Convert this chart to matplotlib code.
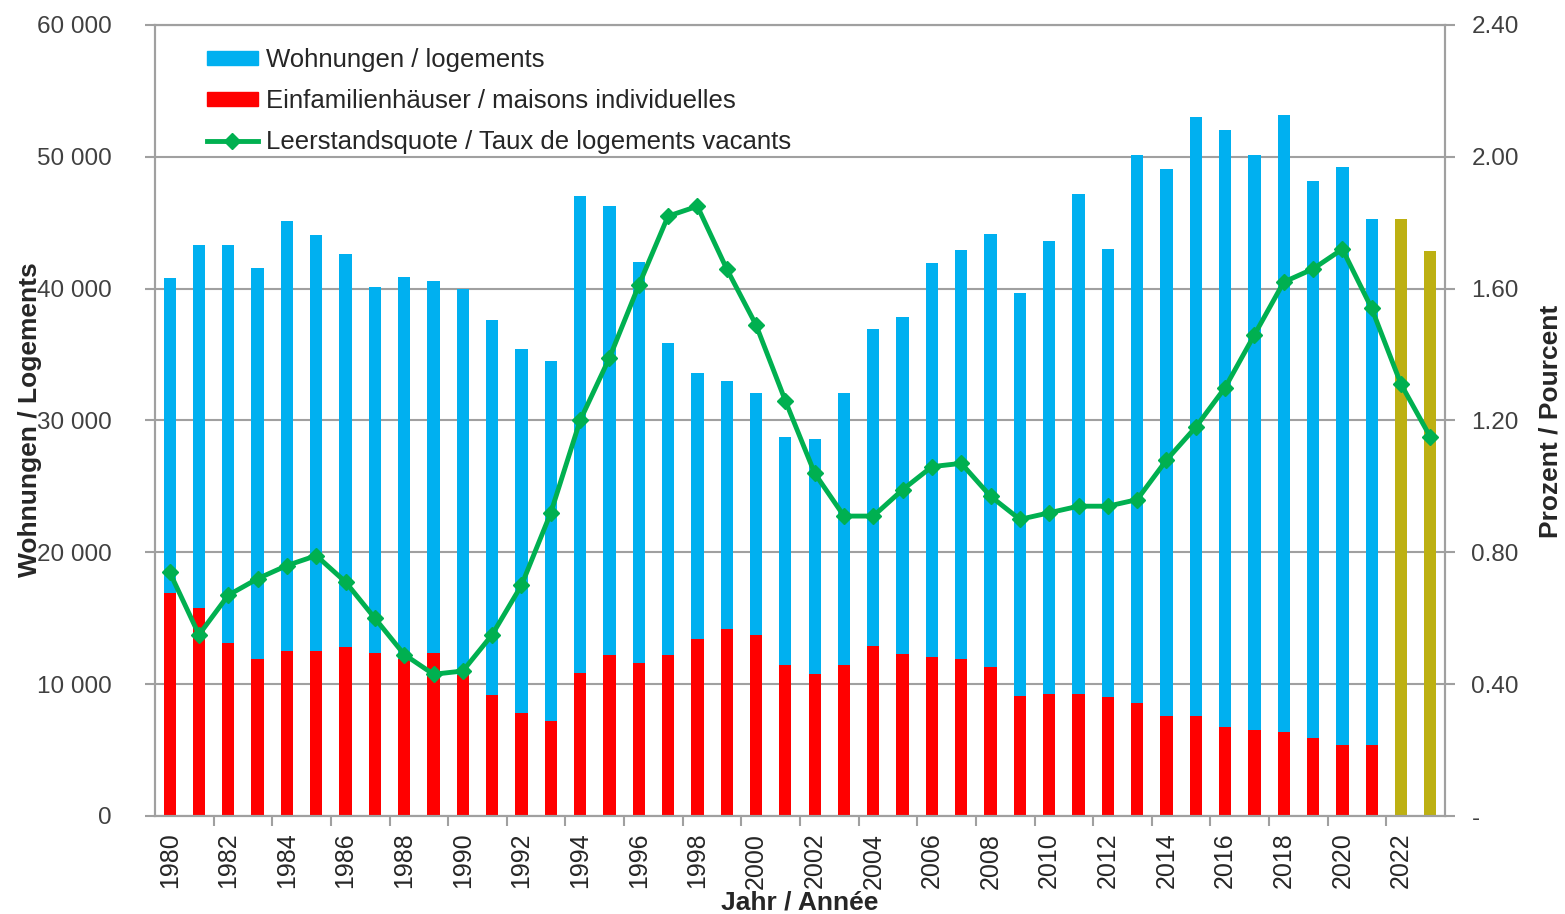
import matplotlib.pyplot as plt
import numpy as np
from matplotlib.patches import Patch
from matplotlib.lines import Line2D

plt.rcParams['font.family'] = ['Liberation Sans', 'DejaVu Sans']

years = list(range(1980, 2024))

# Einfamilienhaeuser (red, bottom of stack), 1980-2021
efh = [16950, 15750, 13150, 11900, 12550, 12550, 12800, 12350, 11900, 12350,
       10700, 9200, 7800, 7200, 10850, 12250, 11600, 12200, 13400, 14150,
       13750, 11450, 10800, 11450, 12900, 12300, 12050, 11900, 11300, 9100,
       9250, 9250, 9000, 8550, 7550, 7550, 6750, 6550, 6350, 5950,
       5400, 5400]
# Wohnungen (blue, stacked on top), 1980-2021
wohnungen = [23850, 27550, 30150, 29650, 32600, 31550, 29800, 27800, 29000, 28250,
             29250, 28400, 27650, 27350, 36150, 34000, 30400, 23700, 20200, 18850,
             18350, 17300, 17800, 20650, 24050, 25550, 29900, 31000, 32850, 30600,
             34400, 37900, 34000, 41600, 41500, 45500, 45250, 43600, 46800, 42250,
             43800, 39850]
# forecast totals 2022-2023 (olive bars)
forecast = [45250, 42850]

# Leerstandsquote in %
quote = [0.74, 0.55, 0.67, 0.72, 0.76, 0.79, 0.71, 0.60, 0.49, 0.43,
         0.44, 0.55, 0.70, 0.92, 1.20, 1.39, 1.61, 1.82, 1.85, 1.66,
         1.49, 1.26, 1.04, 0.91, 0.91, 0.99, 1.06, 1.07, 0.97, 0.90,
         0.92, 0.94, 0.94, 0.96, 1.08, 1.18, 1.30, 1.46, 1.62, 1.66,
         1.72, 1.54, 1.31, 1.15]

BLUE = '#00B0F0'
RED = '#FF0000'
OLIVE = '#BDB012'
GREEN = '#00B050'
GRID = '#A0A0A0'
TXT = '#404040'

fig = plt.figure(figsize=(15.65, 9.14), dpi=100)
ax = fig.add_axes([155/1565, 1-816/914, 1290/1565, 791/914])

x = np.arange(len(years))
n_hist = len(efh)
w = 0.42
ax.bar(x[:n_hist], efh, width=w, color=RED, zorder=2)
ax.bar(x[:n_hist], wohnungen, width=w, bottom=efh, color=BLUE, zorder=2)
ax.bar(x[n_hist:], forecast, width=w, color=OLIVE, zorder=2)

ax.set_xlim(-0.5, len(years) - 0.5)
ax.set_ylim(0, 60000)
ax.set_yticks(range(0, 60001, 10000))
ax.set_yticklabels([f"{v:,}".replace(",", " ") for v in range(0, 60001, 10000)])
ax.yaxis.grid(True, color=GRID, lw=1.5, zorder=0)
ax.set_axisbelow(True)

ax.set_xticks(x[::2])
ax.set_xticklabels([str(y) for y in years[::2]], rotation=90)
ax.set_xticks(np.arange(1.5, len(years) - 1, 2), minor=True)
ax.tick_params(axis='x', which='major', length=0, pad=12, labelsize=18, labelcolor='#262626')
ax.tick_params(axis='x', which='minor', length=7, width=1.5, color=GRID)
ax.tick_params(axis='y', length=7, width=1.5, color=GRID, pad=24, labelsize=17.5, labelcolor=TXT)

for s in ax.spines.values():
    s.set_color(GRID)
    s.set_linewidth(1.5)

ax2 = ax.twinx()
ax2.plot(x, quote, color=GREEN, lw=3.5, marker='D', markersize=8, zorder=5)
ax2.set_ylim(0, 2.4)
ticks2 = np.arange(0, 2.41, 0.4)
ax2.set_yticks(ticks2)
ax2.set_yticklabels(['-' if t == 0 else f"{t:.2f}" for t in ticks2])
ax2.tick_params(axis='y', length=7, width=1.5, color=GRID, pad=12, labelsize=17.5, labelcolor=TXT)
for s in ax2.spines.values():
    s.set_color(GRID)
    s.set_linewidth(1.5)

handles = [Patch(color=BLUE), Patch(color=RED),
           Line2D([], [], color=GREEN, lw=3.5, marker='D', markersize=8)]
labels = ['Wohnungen / logements', 'Einfamilienhäuser / maisons individuelles',
          'Leerstandsquote / Taux de logements vacants']
ax2.legend(handles, labels, loc='upper left', bbox_to_anchor=(0.022, 1.0),
           frameon=False, fontsize=18.5, handlelength=2.0, handleheight=0.5,
           handletextpad=0.3, labelspacing=0.66, labelcolor='#262626')

fig.text(800/1565, 1-903/914, 'Jahr / Année', ha='center', va='center',
         fontsize=19, fontweight='bold', color='#262626')
fig.text(30/1565, 1-420/914, 'Wohnungen / Logements', ha='center', va='center',
         rotation=90, fontsize=19, fontweight='bold', color='#262626')
fig.text(1550/1565, 1-421/914, 'Prozent / Pourcent', ha='center', va='center',
         rotation=90, fontsize=19, fontweight='bold', color='#262626')

fig.savefig('out.png', dpi=100)
